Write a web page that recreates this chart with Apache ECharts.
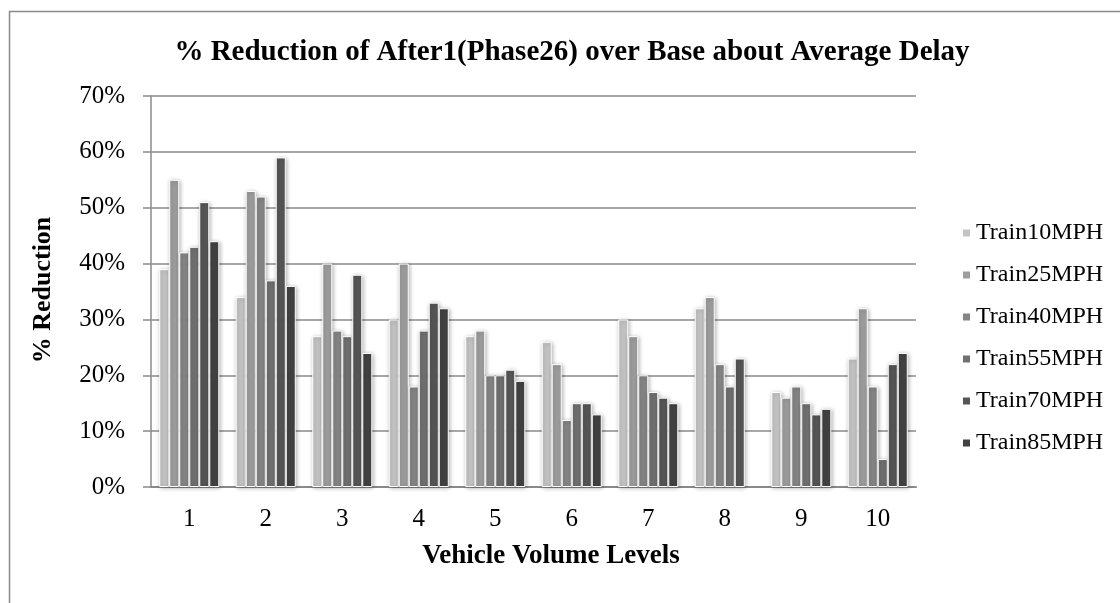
<!DOCTYPE html>
<html>
<head>
<meta charset="utf-8">
<script src="https://cdn.jsdelivr.net/npm/echarts@6/dist/echarts.min.js"></script>
<style>
html,body{margin:0;padding:0;background:#fff;}
#chart{width:1120px;height:603px;}
</style>
</head>
<body>
<div id="chart"></div>
<script>
const categories = ['1','2','3','4','5','6','7','8','9','10'];
const seriesNames = ['Train10MPH','Train25MPH','Train40MPH','Train55MPH','Train70MPH','Train85MPH'];
const train10 = [39, 34, 27, 30, 27, 26, 30, 32, 17, 23];
const train25 = [55, 53, 40, 40, 28, 22, 27, 34, 16, 32];
const train40 = [42, 52, 28, 18, 20, 12, 20, 22, 18, 18];
const train55 = [43, 37, 27, 28, 20, 15, 17, 18, 15, 5];
const train70 = [51, 59, 38, 33, 21, 15, 16, 23, 13, 22];
const train85 = [44, 36, 24, 32, 19, 13, 15, null, 14, 24];
const yTicks = [0, 10, 20, 30, 40, 50, 60, 70];

const colors = ['#c4c4c4', '#9d9d9d', '#858585', '#707070', '#565656', '#424242'];
const values = [train10, train25, train40, train55, train70, train85];
const font = '"Liberation Serif", "Times New Roman", serif';

const chart = echarts.init(document.getElementById('chart'), null, {renderer: 'canvas'});
const option = {
  backgroundColor: '#fff',
  animation: false,
  color: colors,
  title: {
    text: '% Reduction of After1(Phase26) over Base about Average Delay',
    left: 567, top: 33, textAlign: 'center',
    textStyle: {fontFamily: font, fontWeight: 'bold', fontSize: 29, color: '#000', lineHeight: 29}
  },
  legend: {
    orient: 'vertical', left: 956, top: 216, itemGap: 18,
    itemWidth: 9, itemHeight: 9, icon: 'rect',
    textStyle: {fontFamily: font, fontSize: 24, color: '#000', lineHeight: 24},
    data: seriesNames
  },
  grid: {left: 151, right: 204, top: 96, bottom: 116, containLabel: false},
  xAxis: {
    type: 'category', data: categories,
    axisLine: {show: true, lineStyle: {color: '#8a8a8a', width: 2}},
    axisTick: {show: false},
    axisLabel: {fontFamily: font, fontSize: 25, color: '#000', margin: 20, lineHeight: 25}
  },
  yAxis: {
    type: 'value', min: yTicks[0], max: yTicks[yTicks.length-1], interval: 10,
    axisLine: {show: true, lineStyle: {color: '#8a8a8a', width: 1.5}},
    axisTick: {show: true, length: 8, inside: false, lineStyle: {color: '#8a8a8a', width: 1.5}},
    splitLine: {show: true, lineStyle: {color: '#8a8a8a', width: 1.5}},
    axisLabel: {fontFamily: font, fontSize: 25, color: '#000', margin: 26, formatter: '{value}%'}
  },
  graphic: [
    {type: 'rect', left: 7, top: 9, shape: {x: 0, y: 0, width: 1200, height: 700},
     style: {fill: 'none', stroke: '#8a8a8a', lineWidth: 1.5}, silent: true, z: -1},
    {type: 'text', x: 43, y: 290, rotation: Math.PI/2,
     style: {text: '% Reduction', font: 'bold 26px ' + font, fill: '#000', textAlign: 'center', textVerticalAlign: 'middle'}},
    {type: 'text', x: 551, y: 556,
     style: {text: 'Vehicle Volume Levels', font: 'bold 27px ' + font, fill: '#000', textAlign: 'center', textVerticalAlign: 'middle'}}
  ],
  series: seriesNames.map((name, i) => ({
    name: name, type: 'bar', data: values[i],
    barGap: '0%', barCategoryGap: '21.5%',
    itemStyle: {color: colors[i], borderColor: '#ffffff', borderWidth: 1,
      shadowColor: 'rgba(0,0,0,0.3)', shadowBlur: 4, shadowOffsetX: 1, shadowOffsetY: 1}
  }))
};
chart.setOption(option);
</script>
</body>
</html>
